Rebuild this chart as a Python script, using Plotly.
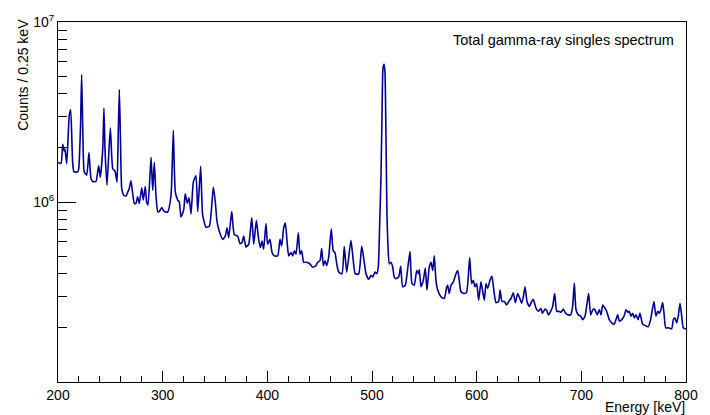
import plotly.graph_objects as go

# Energy (keV) and counts per 0.25 keV
energy_kev = [
    200.0, 202.9, 204.5, 206.0, 206.7, 208.3, 210.8, 212.1, 214.0, 215.3,
    218.8, 219.8, 221.5, 222.6, 223.7, 225.1, 227.4, 229.6, 231.5, 233.2,
    236.3, 237.9, 238.9, 240.4, 242.8, 243.9, 245.0, 246.8, 250.0, 252.3,
    253.8, 254.7, 256.4, 257.5, 258.6, 259.7, 260.9, 262.8, 265.0, 266.6,
    268.1, 269.7, 272.9, 274.5, 276.1, 277.7, 280.0, 281.5, 283.4, 284.7,
    286.0, 288.9, 290.5, 292.0, 293.6, 295.3, 296.8, 299.1, 301.6, 304.8,
    308.0, 309.1, 310.2, 311.2, 312.1, 314.4, 315.9, 317.5, 320.1, 321.6,
    323.5, 325.2, 327.1, 329.3, 331.8, 333.5, 336.3, 338.2, 341.4, 344.6,
    348.4, 350.3, 351.9, 354.1, 357.4, 359.8, 361.5, 363.1, 366.0, 368.4,
    371.7, 373.9, 375.8, 377.4, 379.6, 382.2, 385.1, 387.0, 389.5, 391.7,
    393.3, 394.9, 396.5, 398.7, 400.3, 402.5, 404.5, 406.7, 409.9, 412.1,
    413.7, 415.6, 417.2, 418.8, 420.4, 422.6, 424.2, 425.8, 427.4, 429.6,
    431.2, 432.8, 434.7, 436.9, 440.1, 443.3, 446.5, 448.1, 450.3, 451.9,
    453.5, 455.1, 456.7, 458.6, 461.1, 463.0, 464.6, 466.3, 468.2, 471.3,
    473.5, 475.8, 479.9, 482.1, 484.0, 487.3, 490.2, 492.6, 494.3, 496.8,
    499.0, 500.7, 502.9, 504.5, 506.0, 507.2, 508.6, 509.6, 510.5, 511.5,
    512.4, 513.4, 514.3, 515.3, 516.5, 518.1, 519.8, 521.3, 522.9, 525.5,
    527.4, 529.3, 531.8, 534.1, 536.3, 538.2, 540.4, 542.7, 544.2, 545.2,
    546.8, 549.0, 550.9, 552.5, 554.7, 556.4, 558.0, 559.5, 561.1, 562.8,
    565.9, 569.1, 571.4, 572.3, 573.8, 575.5, 577.7, 580.2, 581.9, 583.4,
    585.0, 588.2, 590.5, 593.3, 595.2, 596.8, 598.4, 600.0, 601.9, 604.1,
    605.8, 607.3, 608.9, 610.5, 612.7, 614.6, 616.8, 618.5, 621.0, 622.3,
    624.2, 626.4, 628.7, 630.6, 632.8, 635.0, 636.9, 639.2, 640.7, 643.0,
    644.6, 646.2, 648.1, 650.3, 652.6, 654.1, 656.7, 658.9, 661.5, 662.7,
    665.3, 666.9, 668.5, 670.7, 672.6, 674.5, 676.5, 678.6, 680.6, 682.8,
    685.0, 687.5, 689.8, 691.7, 693.3, 694.9, 697.1, 699.4, 701.3, 703.5,
    705.7, 707.0, 708.9, 710.9, 712.4, 713.7, 715.2, 717.2, 718.8, 720.4,
    722.6, 724.2, 726.7, 729.0, 731.2, 733.1, 734.7, 736.3, 738.6, 740.8,
    742.7, 744.3, 745.8, 747.4, 749.1, 750.6, 752.2, 754.2, 756.0, 758.6,
    760.8, 764.0, 766.2, 767.8, 769.4, 771.3, 773.0, 774.5, 776.1, 777.7,
    779.0, 780.6, 783.1, 786.3, 787.9, 789.5, 791.1, 792.6, 794.3, 795.9,
    797.4, 799.7, 800.0,
]

counts = [
    1.66e6, 1.64e6, 2.09e6, 1.92e6, 1.96e6, 1.63e6, 3.05e6, 3.25e6, 1.66e6, 1.47e6,
    1.47e6, 1.53e6, 2.60e6, 5.11e6, 2.50e6, 1.47e6, 1.41e6, 1.88e6, 1.35e6, 1.30e6,
    1.30e6, 1.47e6, 1.59e6, 1.37e6, 2.00e6, 3.32e6, 1.90e6, 1.24e6, 2.58e6, 1.53e6,
    1.50e6, 1.47e6, 1.29e6, 2.30e6, 4.21e6, 2.20e6, 1.19e6, 1.09e6, 1.08e6, 1.135e6,
    1.19e6, 1.31e6, 9.83e5, 9.83e5, 1.07e6, 9.83e5, 1.20e6, 1.025e6, 1.22e6, 1.00e6,
    9.63e5, 1.77e6, 1.16e6, 1.66e6, 1.09e6, 8.85e5, 8.85e5, 9.31e5, 8.85e5, 8.80e5,
    1.09e6, 1.60e6, 2.50e6, 1.50e6, 1.135e6, 1.025e6, 1.00e6, 8.25e5, 9.04e5, 1.11e6,
    9.83e5, 1.055e6, 8.57e5, 1.29e6, 1.40e6, 8.85e5, 1.58e6, 8.49e5, 7.24e5, 7.33e5,
    1.21e6, 1.00e6, 7.80e5, 6.88e5, 6.20e5, 6.46e5, 7.18e5, 6.33e5, 8.85e5, 6.60e5,
    6.46e5, 5.87e5, 5.95e5, 6.46e5, 5.63e5, 5.82e5, 8.20e5, 5.82e5, 7.90e5, 6.20e5,
    5.59e5, 6.07e5, 5.47e5, 7.58e5, 5.82e5, 6.20e5, 5.24e5, 5.02e5, 5.02e5, 6.20e5,
    5.70e5, 7.18e5, 7.65e5, 6.07e5, 5.02e5, 5.24e5, 5.02e5, 5.35e5, 5.13e5, 6.74e5,
    5.13e5, 5.35e5, 4.63e5, 4.63e5, 4.57e5, 4.34e5, 4.43e5, 4.63e5, 4.72e5, 5.52e5,
    4.43e5, 4.72e5, 4.43e5, 4.92e5, 7.09e5, 5.35e5, 5.24e5, 4.53e5, 4.08e5, 3.99e5,
    5.66e5, 4.08e5, 6.12e5, 4.72e5, 3.99e5, 3.99e5, 5.70e5, 4.63e5, 3.99e5, 3.72e5,
    3.91e5, 3.83e5, 4.08e5, 3.99e5, 4.34e5, 7.03e5, 1.40e6, 3.18e6, 5.54e6, 5.82e6,
    5.26e6, 2.18e6, 8.49e5, 5.61e5, 4.53e5, 4.63e5, 4.34e5, 3.83e5, 3.75e5, 3.83e5,
    4.40e5, 3.38e5, 3.45e5, 4.25e5, 5.31e5, 3.52e5, 3.45e5, 4.16e5, 3.99e5, 4.20e5,
    3.38e5, 3.67e5, 4.29e5, 3.24e5, 4.34e5, 4.63e5, 4.16e5, 5.02e5, 3.67e5, 3.24e5,
    2.97e5, 2.91e5, 3.38e5, 3.45e5, 3.10e5, 3.45e5, 3.60e5, 3.99e5, 4.16e5, 3.67e5,
    3.17e5, 3.10e5, 3.17e5, 4.92e5, 3.52e5, 3.67e5, 3.38e5, 3.52e5, 2.85e5, 3.60e5,
    3.17e5, 2.85e5, 3.52e5, 3.31e5, 3.67e5, 3.86e5, 3.10e5, 2.76e5, 2.80e5, 3.24e5,
    2.80e5, 2.80e5, 2.68e5, 2.80e5, 2.91e5, 3.13e5, 2.76e5, 3.10e5, 2.97e5, 2.74e5,
    2.97e5, 3.38e5, 2.80e5, 2.63e5, 2.80e5, 2.88e5, 2.57e5, 2.47e5, 2.57e5, 2.41e5,
    2.54e5, 2.50e5, 2.36e5, 2.47e5, 2.63e5, 3.10e5, 2.47e5, 2.47e5, 2.44e5, 2.54e5,
    2.41e5, 2.36e5, 2.36e5, 2.63e5, 3.55e5, 2.52e5, 2.36e5, 2.32e5, 2.22e5, 2.32e5,
    2.80e5, 3.10e5, 2.36e5, 2.52e5, 2.54e5, 2.47e5, 2.36e5, 2.52e5, 2.36e5, 2.68e5,
    2.57e5, 2.47e5, 2.22e5, 2.13e5, 2.09e5, 2.22e5, 2.36e5, 2.18e5, 2.22e5, 2.32e5,
    2.52e5, 2.44e5, 2.47e5, 2.32e5, 2.41e5, 2.27e5, 2.36e5, 2.22e5, 2.41e5, 2.09e5,
    2.06e5, 2.03e5, 2.22e5, 2.52e5, 2.80e5, 2.32e5, 2.47e5, 2.41e5, 2.52e5, 2.76e5,
    2.41e5, 2.00e5, 2.00e5, 1.975e5, 2.22e5, 2.27e5, 2.13e5, 2.32e5, 2.74e5, 2.32e5,
    2.00e5, 1.97e5, 1.96e5,
]

x_major_ticks = [200, 300, 400, 500, 600, 700, 800]
y_major_ticks = [1e6, 1e7]
y_major_text = ["10<sup>6</sup>", "10<sup>7</sup>"]
y_minor_ticks = [m * 1e5 for m in range(2, 10)] + [m * 1e6 for m in range(2, 10)]

FONT = "Liberation Sans, Arial, Helvetica, sans-serif"

fig = go.Figure()
fig.add_trace(go.Scatter(
    x=energy_kev, y=counts, mode="lines",
    line=dict(color="#000099", width=1.6, shape="spline", smoothing=0.5),
    showlegend=False, hoverinfo="skip",
))

fig.update_layout(
    width=710, height=415,
    margin=dict(l=58, r=24, t=19, b=29),
    paper_bgcolor="white", plot_bgcolor="white",
    font=dict(family=FONT, size=14, color="black"),
    xaxis=dict(
        range=[200, 800], showgrid=False, zeroline=False,
        showline=True, linecolor="black", linewidth=1, mirror=True,
        ticks="inside", ticklen=11, tickwidth=1, tickcolor="black",
        tickmode="array", tickvals=x_major_ticks,
        ticktext=[str(v) for v in x_major_ticks],
        tickfont=dict(size=14),
        minor=dict(ticks="inside", ticklen=6, tickwidth=1, tickcolor="black",
                   dtick=20, tick0=200, showgrid=False),
    ),
    yaxis=dict(
        type="log", range=[5.0, 7.0], showgrid=False, zeroline=False,
        showline=True, linecolor="black", linewidth=1, mirror=True,
        ticks="inside", ticklen=18, tickwidth=1, tickcolor="black",
        tickmode="array", tickvals=y_major_ticks, ticktext=y_major_text,
        tickfont=dict(size=14),
        minor=dict(ticks="inside", ticklen=9, tickwidth=1, tickcolor="black",
                   tickmode="array", tickvals=y_minor_ticks, showgrid=False),
    ),
    annotations=[
        dict(text="Total gamma-ray singles spectrum", xref="paper", yref="paper",
             x=0.984, y=0.951, xanchor="right", yanchor="middle",
             showarrow=False, font=dict(size=14.5)),
        dict(text="Energy [keV]", xref="paper", yref="paper",
             x=1.0, y=-0.045, xanchor="right", yanchor="top",
             showarrow=False, font=dict(size=14), borderpad=0),
        dict(text="Counts / 0.25 keV", xref="paper", yref="paper",
             x=-0.056, y=1.014, xanchor="center", yanchor="top",
             textangle=-90, showarrow=False, font=dict(size=14)),
    ],
)

fig.write_html("out.html")
